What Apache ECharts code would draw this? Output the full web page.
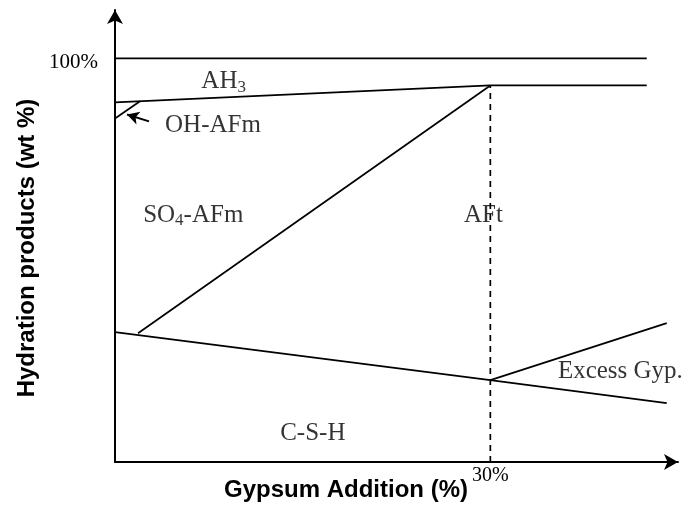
<!DOCTYPE html>
<html><head><meta charset="utf-8">
<script src="https://cdn.jsdelivr.net/npm/echarts@6/dist/echarts.min.js"></script>
<style>html,body{margin:0;padding:0;background:#fff}#c{width:683px;height:512px}</style>
</head><body><div id="c"></div>
<script>
// x: gypsum addition (%), y: hydration products (wt %)
const topLine = [[0,100],[42.5,100]];
const ah3Line = [[0,89.1],[30,93.3],[42.5,93.3]];
const ohAfmLine = [[0,85.1],[2.0,89.4]];
const afmAftLine = [[1.84,31.9],[30,93.3]];
const cshLine = [[0,32.2],[30,20.3],[44.1,14.6]];
const excessLine = [[30,20.3],[44.1,34.4]];
const dashedLine = [[30,0],[30,93.3]];
const ohArrow = [[2.72,84.4],[0.96,86.1]];
const labelTexts = ['AH{s|3}','OH-AFm','SO{s|4}-AFm','AFt','Excess Gyp.','C-S-H'];
const labelPos = [[6.9,94.2],[4.0,83.4],[2.25,61.1],[27.9,61.1],[35.4,22.5],[13.2,7.2]];
const xTickLabels = {30:'30%'};
const yTickLabels = {100:'100%'};

const chart = echarts.init(document.getElementById('c'));
const serif = 'Liberation Serif';
function seg(data, dashed){
  return {type:'line', data:data, symbol:'none', silent:true, animation:false,
    lineStyle:{color:'#000', width:1.7, type: dashed ? [6,5] : 'solid'}};
}
const series = [
  seg(topLine), seg(ah3Line), seg(ohAfmLine), seg(afmAftLine), seg(cshLine), seg(excessLine), seg(dashedLine, true),
  {type:'line', data:[], markLine:{silent:true, animation:false, symbol:['none','arrow'], symbolSize:[10,12],
    lineStyle:{color:'#000', width:2, type:'solid'}, label:{show:false},
    data:[[{coord:ohArrow[0]},{coord:ohArrow[1]}]]}},
  {type:'scatter', symbolSize:0, animation:false, silent:true,
    data: labelPos.map((p,i)=>({value:p, label:{show:true, position:'inside', formatter:labelTexts[i], align:'left',
      color:'#000', fontFamily:serif, fontSize:25,
      rich:{s:{fontSize:17, fontFamily:serif, color:'#000', padding:[11,0,0,0]}}}}))}
];
chart.setOption({
  animation:false,
  grid:{left:115, right:5, top:10, bottom:50},
  xAxis:{type:'value', min:0, max:45, interval:30,
    axisLine:{show:true, onZero:false, symbol:['none','arrow'], symbolSize:[12,14], lineStyle:{color:'#000', width:2}},
    axisTick:{show:false}, splitLine:{show:false},
    axisLabel:{showMaxLabel:false, formatter:v=>xTickLabels[v]||'', color:'#000', fontFamily:serif, fontSize:20, margin:4}},
  yAxis:{type:'value', min:0, max:112, interval:100,
    axisLine:{show:true, onZero:false, symbol:['none','arrow'], symbolSize:[12,14], lineStyle:{color:'#000', width:2}},
    axisTick:{show:false}, splitLine:{show:false},
    axisLabel:{showMaxLabel:false, formatter:v=>yTickLabels[v]||'', color:'#000', fontFamily:serif, fontSize:21, margin:17, verticalAlign:'top', lineHeight:9}},
  graphic:[
    {type:'text', x:346, y:490, style:{text:'Gypsum Addition (%)', font:'bold 24px "Liberation Sans"', fill:'#000', textAlign:'center', textVerticalAlign:'middle'}},
    {type:'text', x:27, y:248, rotation:Math.PI/2, style:{text:'Hydration products (wt %)', font:'bold 24px "Liberation Sans"', fill:'#000', textAlign:'center', textVerticalAlign:'middle'}}
  ],
  series: series
});
</script></body></html>
